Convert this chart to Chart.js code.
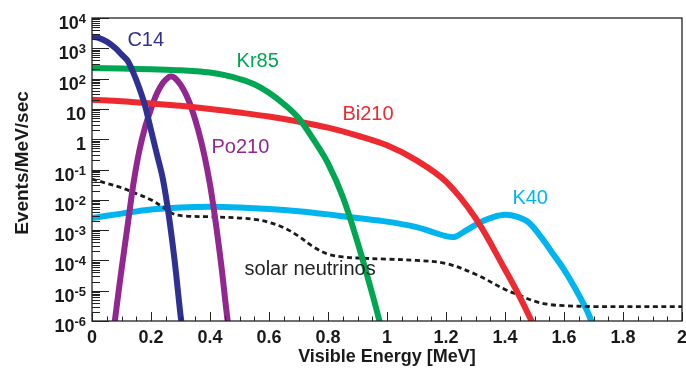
<!DOCTYPE html>
<html>
<head>
<meta charset="utf-8">
<script src="https://cdn.jsdelivr.net/npm/chart.js@4.4.0/dist/chart.umd.min.js"></script>
<style>
  html, body { margin: 0; padding: 0; background: #fff; }
  canvas { display: block; }
</style>
</head>
<body>
<canvas id="spectrumChart" width="686" height="370"></canvas>
<script>
// Background spectra, Events/MeV/sec vs visible energy (MeV)
const c14Energy = [0, 0.02, 0.05, 0.08, 0.1, 0.12, 0.14, 0.16, 0.18, 0.2, 0.22, 0.24, 0.26, 0.28, 0.3, 0.31];
const c14Rate = [2400, 2240, 1660, 1000, 630, 400, 158, 50, 12.6, 2.0, 0.32, 0.05, 3.2e-3, 1e-4, 1.6e-6, 3.2e-7];

const kr85Energy = [0, 0.1, 0.2, 0.25, 0.3, 0.35, 0.4, 0.45, 0.5, 0.55, 0.6, 0.65, 0.7, 0.75, 0.8, 0.85, 0.9, 0.95, 0.98];
const kr85Rate = [224, 214, 202, 196, 188, 176, 158, 130, 97, 65, 34, 14.5, 5, 1, 0.16, 0.0126, 4e-4, 7.9e-6, 6.3e-7];

const bi210Energy = [0, 0.1, 0.2, 0.3, 0.4, 0.5, 0.6, 0.7, 0.8, 0.9, 1.0, 1.1, 1.2, 1.3, 1.4, 1.45, 1.5];
const bi210Rate = [20, 17.8, 15.1, 12.6, 10, 7.6, 5.6, 3.8, 2.4, 1.32, 0.63, 0.2, 0.04, 2.5e-3, 5e-5, 6.3e-6, 6.3e-7];

const po210Energy = [0.075, 0.08, 0.1, 0.12, 0.14, 0.16, 0.18, 0.2, 0.22, 0.24, 0.26, 0.27, 0.28, 0.3, 0.32, 0.34, 0.36, 0.38, 0.4, 0.42, 0.44, 0.46, 0.47];
const po210Rate = [6.3e-7, 1.6e-6, 5e-5, 1.26e-3, 0.032, 0.4, 2.5, 10, 32, 71, 112, 117, 107, 63, 28, 8.9, 2, 0.32, 0.032, 1.6e-3, 5e-5, 1e-6, 3.2e-7];

const k40Energy = [0, 0.1, 0.2, 0.3, 0.4, 0.5, 0.6, 0.7, 0.8, 0.9, 1.0, 1.1, 1.15, 1.2, 1.23, 1.27, 1.32, 1.36, 1.4, 1.44, 1.48, 1.52, 1.56, 1.6, 1.64, 1.68, 1.7];
const k40Rate = [2.5e-3, 3.5e-3, 4.8e-3, 5.6e-3, 5.9e-3, 5.6e-3, 5e-3, 4.2e-3, 3.3e-3, 2.5e-3, 1.9e-3, 1.26e-3, 8.9e-4, 6.3e-4, 6e-4, 1e-3, 1.9e-3, 2.7e-3, 3.2e-3, 2.8e-3, 1.8e-3, 6.3e-4, 1.8e-4, 5e-5, 1.1e-5, 2e-6, 6.3e-7];

const solarEnergy = [0, 0.05, 0.1, 0.15, 0.2, 0.25, 0.28, 0.32, 0.4, 0.5, 0.56, 0.6, 0.65, 0.7, 0.75, 0.8, 0.85, 0.9, 1.0, 1.1, 1.2, 1.3, 1.4, 1.45, 1.5, 1.55, 1.6, 1.7, 2.0];
const solarRate = [0.048, 0.035, 0.025, 0.016, 0.01, 5e-3, 3.3e-3, 2.9e-3, 2.75e-3, 2.5e-3, 2.2e-3, 1.8e-3, 1.2e-3, 6.3e-4, 2.8e-4, 1.6e-4, 1.3e-4, 1.2e-4, 1.1e-4, 1e-4, 7.9e-5, 3.5e-5, 1.1e-5, 7e-6, 4.5e-6, 3.5e-6, 3.2e-6, 3e-6, 3e-6];

// axis ticks
const xTicks = [0, 0.2, 0.4, 0.6, 0.8, 1, 1.2, 1.4, 1.6, 1.8, 2];
const xTickLabels = ['0', '0.2', '0.4', '0.6', '0.8', '1', '1.2', '1.4', '1.6', '1.8', '2'];
const yTicks = [1e4, 1e3, 1e2, 10, 1, 0.1, 1e-2, 1e-3, 1e-4, 1e-5, 1e-6];
const yTickBase = ['10', '10', '10', '10', '1', '10', '10', '10', '10', '10', '10'];
const yTickExp = ['4', '3', '2', '', '', '-1', '-2', '-3', '-4', '-5', '-6'];

// curve labels (placed in data coordinates)
const curveNames = ['C14', 'Kr85', 'Bi210', 'Po210', 'K40', 'solar neutrinos'];
const labelEnergy = [0.12, 0.49, 0.849, 0.405, 1.425, 0.517];
const labelRate = [1190, 242, 4.3, 0.35, 7.3e-3, 3.3e-5];
const labelColors = ['#2e3192', '#00a651', '#ed2a2f', '#92278f', '#00b5ee', '#222222'];

const FONT = '"Liberation Sans", Arial, Helvetica, sans-serif';

function toPoints(xs, ys) {
  return xs.map((x, i) => ({ x: x, y: ys[i] }));
}

function curve(label, xs, ys, color, extra) {
  return Object.assign({
    label: label,
    data: toPoints(xs, ys),
    borderColor: color,
    borderWidth: 6,
    pointRadius: 0,
    fill: false,
    tension: 0.35,
    clip: 0
  }, extra || {});
}

const frameAndTicks = {
  id: 'frameAndTicks',
  afterDatasetsDraw(chart) {
    const { ctx, chartArea: a, scales } = chart;
    const x = scales.x, y = scales.y;
    ctx.save();
    ctx.strokeStyle = '#222';
    ctx.lineWidth = 1;
    ctx.beginPath();

    // x ticks, inside, pointing up
    for (let i = 0; i <= 40; i++) {
      const px = Math.round(x.getPixelForValue(i * 0.05)) + 0.5;
      const len = i % 4 === 0 ? 9 : 4.5;
      ctx.moveTo(px, a.bottom);
      ctx.lineTo(px, a.bottom - len);
    }

    // y ticks, inside, pointing right
    yTicks.forEach(v => {
      const py = Math.round(y.getPixelForValue(v)) + 0.5;
      ctx.moveTo(a.left, py);
      ctx.lineTo(a.left + 17, py);
    });
    for (let d = -6; d < 4; d++) {
      for (let m = 2; m <= 9; m++) {
        const py = Math.round(y.getPixelForValue(m * Math.pow(10, d))) + 0.5;
        ctx.moveTo(a.left, py);
        ctx.lineTo(a.left + 8, py);
      }
    }
    ctx.stroke();

    // frame
    ctx.lineWidth = 1.3;
    ctx.strokeRect(a.left, a.top, a.right - a.left, a.bottom - a.top);

    // tick labels
    ctx.fillStyle = '#1a1a1a';
    ctx.textBaseline = 'alphabetic';
    ctx.font = 'bold 18px ' + FONT;
    ctx.textAlign = 'center';
    xTicks.forEach((v, i) => {
      ctx.fillText(xTickLabels[i], x.getPixelForValue(v), 343);
    });

    const labelRight = a.left - 6;
    yTicks.forEach((v, i) => {
      const py = y.getPixelForValue(v);
      ctx.textAlign = 'right';
      let right = labelRight;
      if (yTickExp[i]) {
        ctx.font = 'bold 13px ' + FONT;
        ctx.fillText(yTickExp[i], right, py + 5);
        right -= ctx.measureText(yTickExp[i]).width;
      }
      ctx.font = 'bold 18px ' + FONT;
      ctx.fillText(yTickBase[i], right, py + 11);
    });

    // axis titles
    ctx.font = 'bold 18px ' + FONT;
    ctx.textAlign = 'center';
    ctx.fillText('Visible Energy [MeV]', (a.left + a.right) / 2, 362);
    ctx.save();
    ctx.translate(28, 163);
    ctx.rotate(-Math.PI / 2);
    ctx.font = 'bold 19px ' + FONT;
    ctx.fillText('Events/MeV/sec', 0, 0);
    ctx.restore();

    // curve labels
    ctx.font = '20px ' + FONT;
    ctx.textAlign = 'left';
    curveNames.forEach((name, i) => {
      ctx.fillStyle = labelColors[i];
      ctx.fillText(name, x.getPixelForValue(labelEnergy[i]), y.getPixelForValue(labelRate[i]));
    });
    ctx.restore();
  }
};

new Chart(document.getElementById('spectrumChart'), {
  type: 'line',
  data: {
    datasets: [
      curve('C14', c14Energy, c14Rate, labelColors[0]),
      curve('Kr85', kr85Energy, kr85Rate, labelColors[1]),
      curve('Bi210', bi210Energy, bi210Rate, labelColors[2]),
      curve('Po210', po210Energy, po210Rate, labelColors[3]),
      curve('solar neutrinos', solarEnergy, solarRate, '#1a1a1a', { borderWidth: 2.8, borderDash: [5, 3.5] }),
      curve('K40', k40Energy, k40Rate, labelColors[4])
    ]
  },
  options: {
    responsive: false,
    devicePixelRatio: 1,
    animation: false,
    layout: { padding: { left: 92, right: 4, top: 18, bottom: 49 } },
    scales: {
      x: { type: 'linear', min: 0, max: 2, display: false },
      y: { type: 'logarithmic', min: 1e-6, max: 1e4, display: false }
    },
    plugins: {
      legend: { display: false },
      tooltip: { enabled: false }
    }
  },
  plugins: [frameAndTicks]
});
</script>
</body>
</html>
